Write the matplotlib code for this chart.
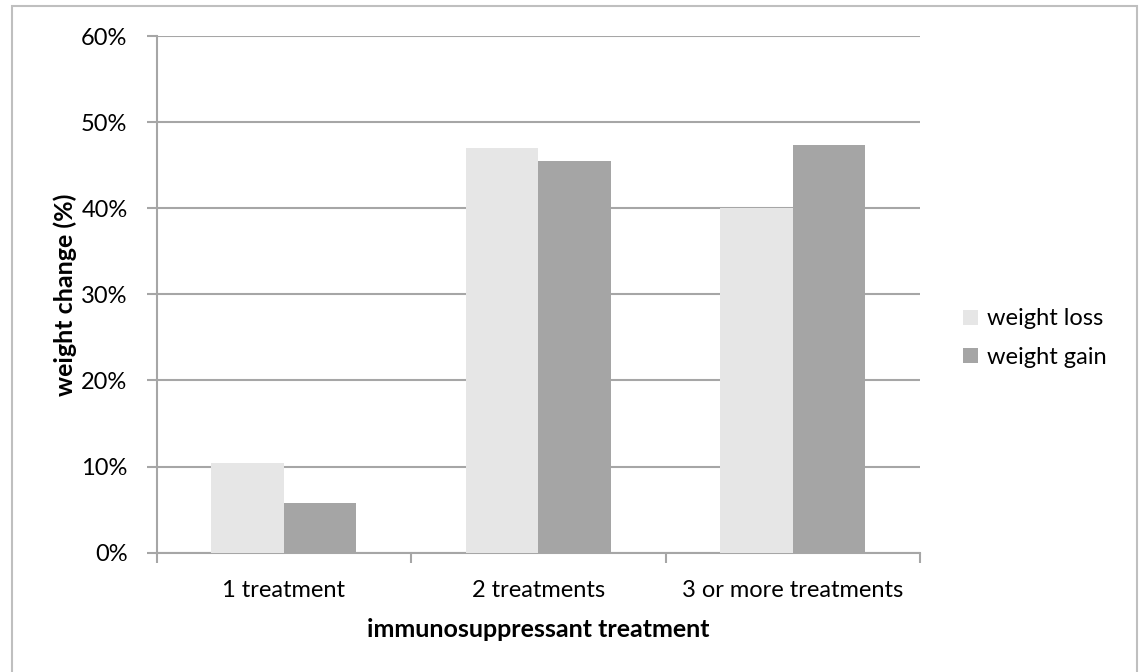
import matplotlib.pyplot as plt
import numpy as np
from matplotlib.patches import Rectangle
from matplotlib.ticker import FuncFormatter, FixedLocator

plt.rcParams['font.family'] = ['Lato', 'DejaVu Sans']

categorias = ['1 treatment', '2 treatments', '3 or more treatments']
weight_loss = [10.4, 47.0, 40.0]
weight_gain = [5.8, 45.5, 47.3]

color_loss = '#E6E6E6'
color_gain = '#A5A5A5'
gris = '#A6A6A6'

fig = plt.figure(figsize=(11.39, 6.72), dpi=100)
ax = fig.add_axes([0.1376, 0.1775, 0.8077 - 0.1376, 0.9464 - 0.1775])

x = np.arange(len(categorias))
ancho = 0.285
ax.bar(x - ancho / 2, weight_loss, ancho, color=color_loss, label='weight loss', zorder=3)
ax.bar(x + ancho / 2, weight_gain, ancho, color=color_gain, label='weight gain', zorder=3)

ax.set_xlim(-0.5, len(categorias) - 0.5)
ax.set_ylim(0, 60)
ax.set_yticks(np.arange(0, 61, 10))
ax.yaxis.set_major_formatter(FuncFormatter(lambda v, p: f'{v:.0f}%'))
ax.yaxis.grid(True, color=gris, linewidth=1.5, zorder=0)
ax.set_axisbelow(True)

# ticks del eje X entre categorías, etiquetas centradas
ax.xaxis.set_major_locator(FixedLocator(np.arange(-0.5, len(categorias), 1.0)))
ax.xaxis.set_major_formatter(FuncFormatter(lambda v, p: ''))
ax.set_xticks(x, minor=True)
ax.set_xticklabels(categorias, minor=True, fontsize=17)
ax.tick_params(axis='x', which='minor', length=0, pad=20)
ax.tick_params(axis='x', which='major', length=7, width=1.5, color=gris, direction='out')
ax.tick_params(axis='y', length=7, width=1.5, color=gris, labelsize=17, pad=14)

for lado in ['top', 'right']:
    ax.spines[lado].set_visible(False)
for lado in ['left', 'bottom']:
    ax.spines[lado].set_color(gris)
    ax.spines[lado].set_linewidth(1.5)

ax.set_xlabel('immunosuppressant treatment', fontsize=18, fontweight='bold', labelpad=12)
# etiqueta Y colocada a mano, más cerca de los ticks
fig.text(65 / 1139, 0.561, 'weight change (%)', rotation=90, ha='center', va='center',
         fontsize=18, fontweight='bold')

ax.legend(loc='center left', bbox_to_anchor=(1.029, 0.415), frameon=False, fontsize=17,
          handlelength=0.6, handleheight=0.6, handletextpad=0.4, labelspacing=0.75)

# Borde exterior del gráfico
fig.patches.append(Rectangle((12 / 1139, -0.05), (1137 - 12) / 1139, 1.05 - 6 / 672,
                             transform=fig.transFigure, fill=False,
                             edgecolor='#BFBFBF', linewidth=1.5))

plt.savefig('out.png', dpi=100)
plt.close()
